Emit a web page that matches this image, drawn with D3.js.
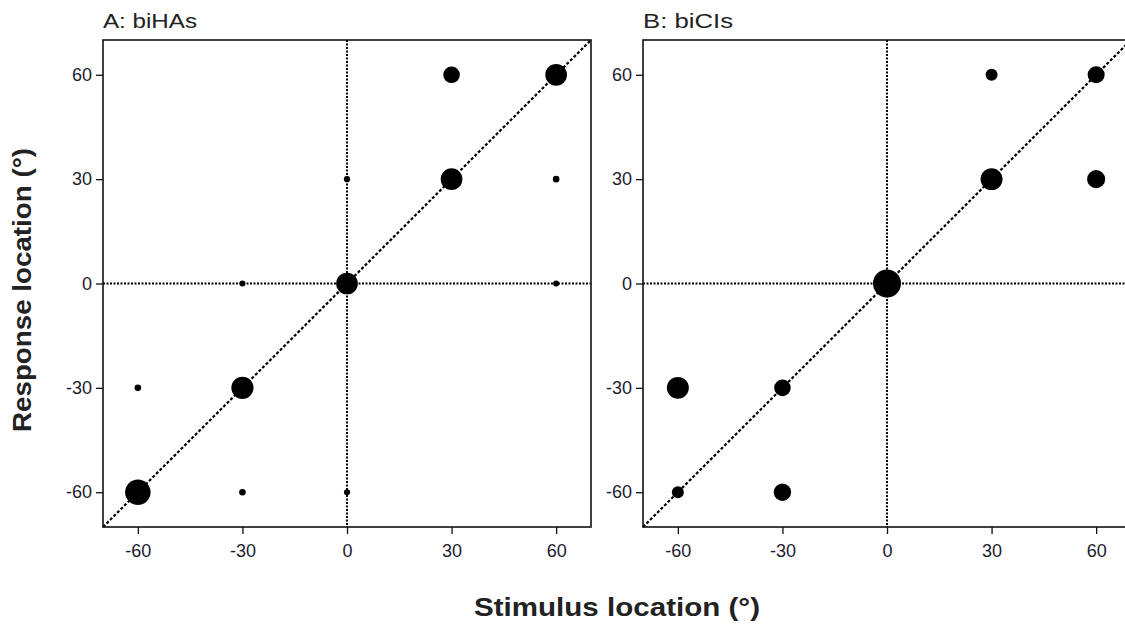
<!DOCTYPE html>
<html>
<head>
<meta charset="utf-8">
<script src="https://cdn.jsdelivr.net/npm/d3@7"></script>
<style>
  html, body { margin: 0; padding: 0; background: #fff; }
  svg { display: block; }
</style>
</head>
<body>
<div id="chart"></div>
<script>
// stimulus / response locations (deg) and estimated trial counts per cell
const TICKS = [-60, -30, 0, 30, 60];

const A_STIM = [60, 30, 0, 30, 60, -30, 0, 60, -60, -30, -60, -30, 0];
const A_RESP = [60, 60, 30, 30, 30, 0, 0, 0, -30, -30, -60, -60, -60];
const A_N    = [12, 7, 1, 12, 1.1, 0.95, 12, 0.95, 1.1, 12.5, 16.5, 1.1, 0.95];

const B_STIM = [30, 60, 30, 60, 0, -60, -30, -60, -30];
const B_RESP = [60, 60, 30, 30, 0, -30, -30, -60, -60];
const B_N    = [3.7, 7.4, 12.3, 8.3, 20, 12.3, 7, 3.7, 7.7];

const PANELS = [
  { title: "A: biHAs", titleW: 94, stim: A_STIM, resp: A_RESP, n: A_N, left: 103 },
  { title: "B: biCIs", titleW: 90, stim: B_STIM, resp: B_RESP, n: B_N, left: 643 },
];

const W = 1125, H = 635;
const TOP = 40, PW = 488, PH = 487;
const FONT = "'Liberation Sans', Arial, sans-serif";

const svg = d3.select("#chart").append("svg")
  .attr("width", W).attr("height", H);

const rScale = d3.scaleSqrt().domain([0, 20]).range([0, 14]);

PANELS.forEach(p => {
  const x = d3.scaleLinear().domain([-70, 70]).range([0, PW]);
  const y = d3.scaleLinear().domain([-70, 70]).range([PH, 0]);

  const g = svg.append("g").attr("transform", `translate(${p.left},${TOP})`);

  // reference lines
  g.append("line")
    .attr("x1", x(0)).attr("x2", x(0)).attr("y1", 0).attr("y2", PH)
    .attr("stroke", "#000").attr("stroke-width", 2).attr("stroke-dasharray", "2,1.5");
  g.append("line")
    .attr("x1", 0).attr("x2", PW).attr("y1", y(0)).attr("y2", y(0))
    .attr("stroke", "#000").attr("stroke-width", 2).attr("stroke-dasharray", "2,1.5");
  g.append("line")
    .attr("x1", x(-70)).attr("y1", y(-70)).attr("x2", x(70)).attr("y2", y(70))
    .attr("stroke", "#000").attr("stroke-width", 2.2).attr("stroke-dasharray", "3,2");

  // bubbles
  g.selectAll("circle")
    .data(p.n.map((n, i) => ({ s: p.stim[i], r: p.resp[i], n })))
    .join("circle")
    .attr("cx", d => x(d.s))
    .attr("cy", d => y(d.r))
    .attr("r", d => rScale(d.n))
    .attr("fill", "#000");

  // axes
  const xAxis = g.append("g")
    .attr("transform", `translate(0,${PH})`)
    .call(d3.axisBottom(x).tickValues(TICKS).tickFormat(d => String(d)).tickSize(7).tickPadding(10));
  const yAxis = g.append("g")
    .call(d3.axisLeft(y).tickValues(TICKS).tickFormat(d => String(d)).tickSize(7).tickPadding(4));

  [xAxis, yAxis].forEach(a => {
    a.select(".domain").remove();
    a.selectAll(".tick line").attr("stroke", "#111").attr("stroke-width", 1.3);
    a.selectAll(".tick text")
      .attr("fill", "#1c1c30")
      .attr("font-size", "18px")
      .attr("font-family", FONT);
  });

  // frame
  g.append("rect")
    .attr("x", 0).attr("y", 0).attr("width", PW).attr("height", PH)
    .attr("fill", "none").attr("stroke", "#111").attr("stroke-width", 1.6);

  svg.append("text")
    .attr("x", p.left).attr("y", 28)
    .attr("font-family", FONT).attr("font-size", "21px")
    .attr("textLength", p.titleW).attr("lengthAdjust", "spacingAndGlyphs")
    .attr("fill", "#222")
    .text(p.title);
});

svg.append("text")
  .attr("x", 617).attr("y", 616)
  .attr("text-anchor", "middle")
  .attr("font-family", FONT).attr("font-size", "25px").attr("font-weight", "bold")
  .attr("textLength", 286).attr("lengthAdjust", "spacingAndGlyphs")
  .attr("fill", "#222")
  .text("Stimulus location (°)");

svg.append("text")
  .attr("transform", "translate(31,290) rotate(-90)")
  .attr("text-anchor", "middle")
  .attr("font-family", FONT).attr("font-size", "25px").attr("font-weight", "bold")
  .attr("textLength", 284).attr("lengthAdjust", "spacingAndGlyphs")
  .attr("fill", "#222")
  .text("Response location (°)");
</script>
</body>
</html>
